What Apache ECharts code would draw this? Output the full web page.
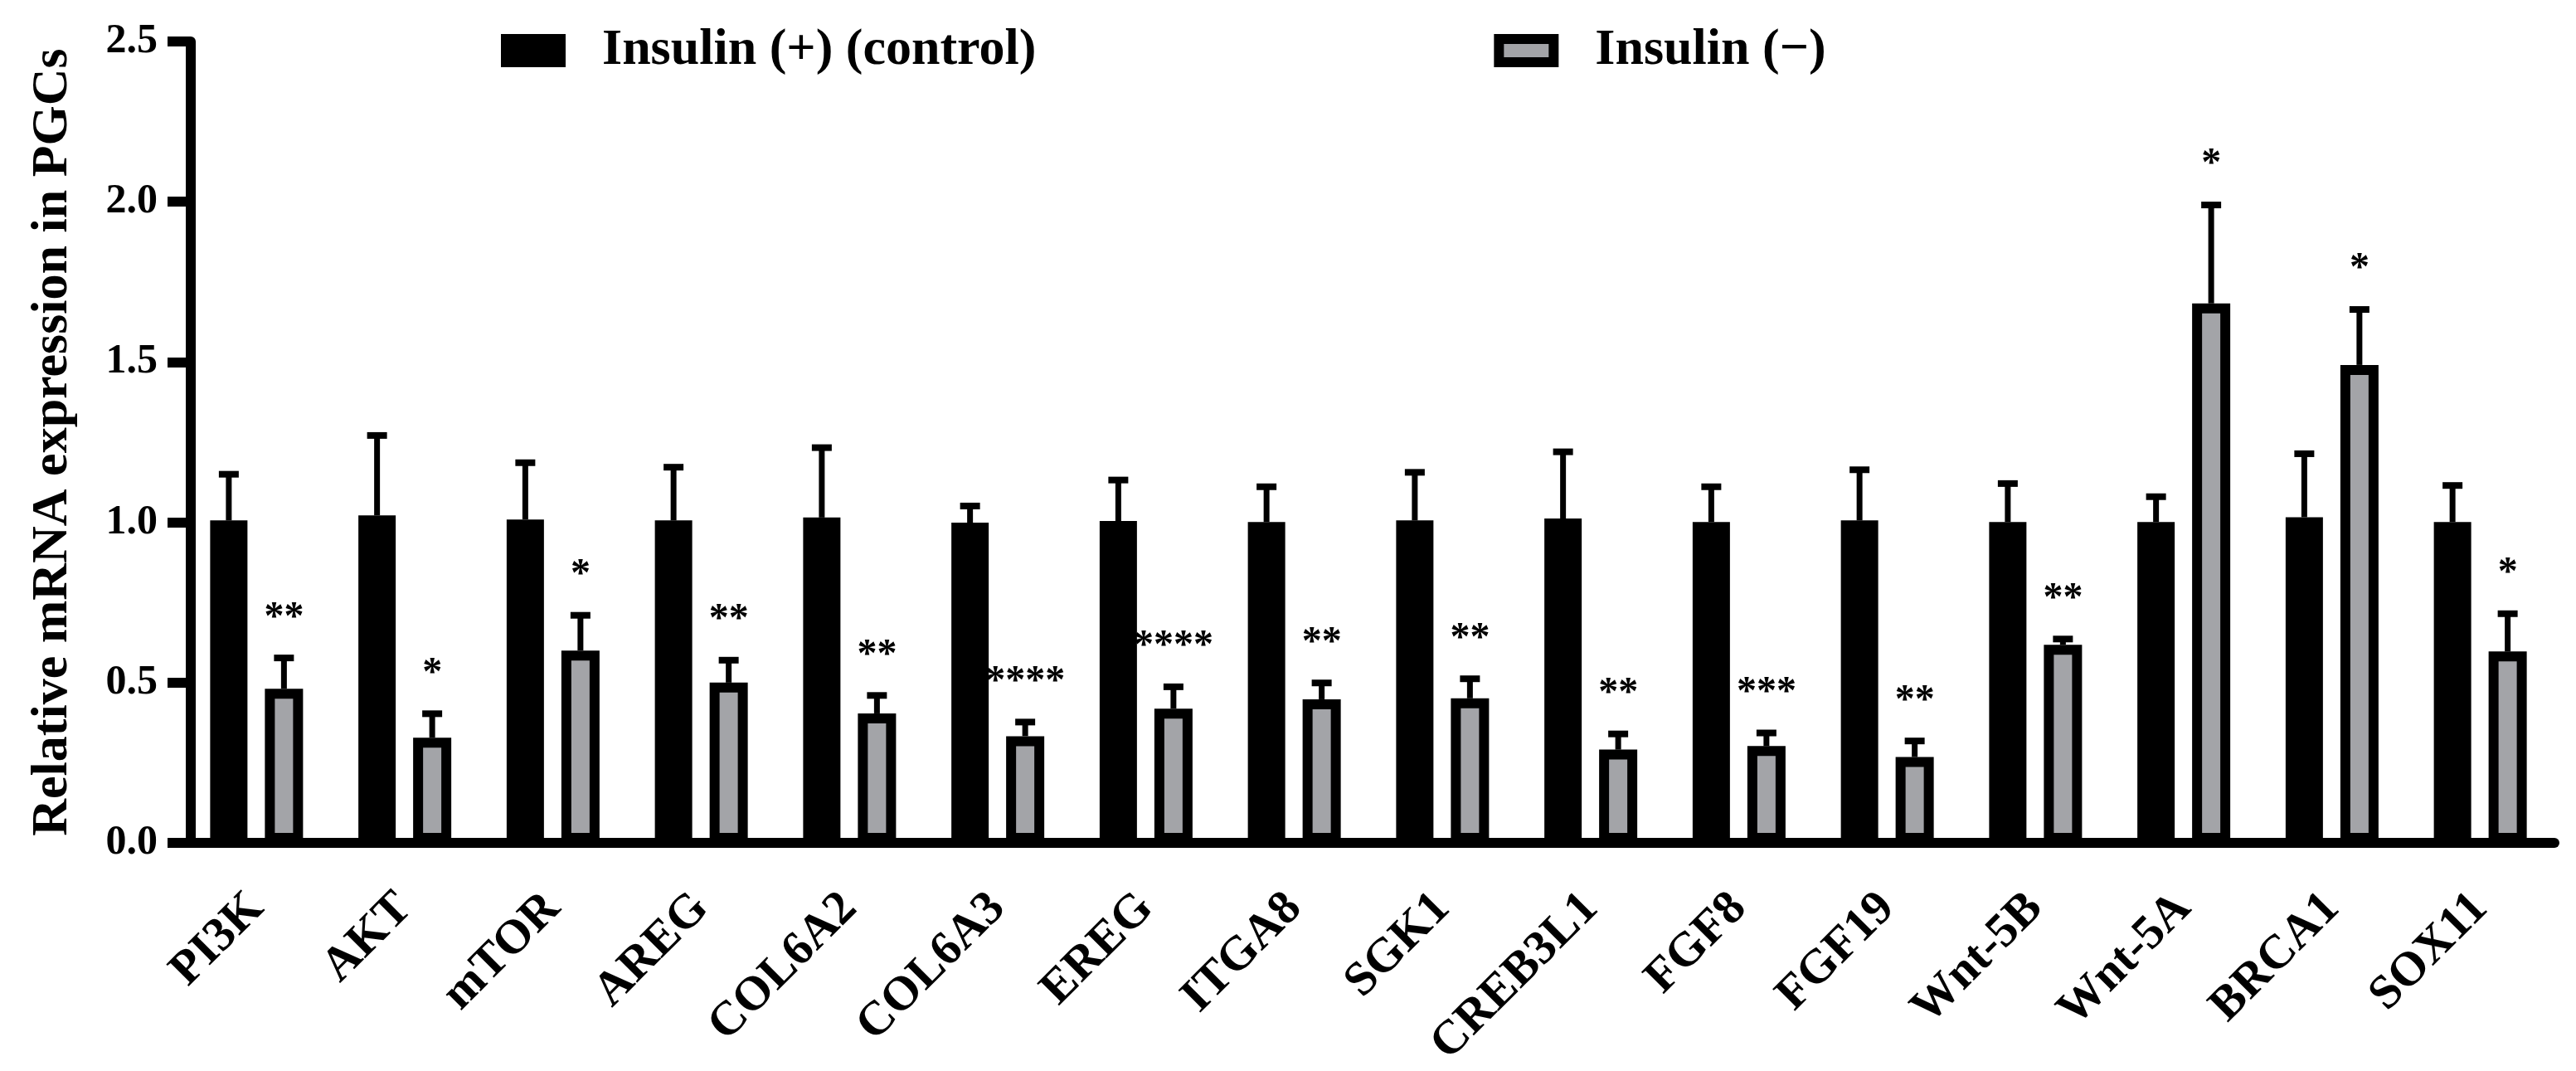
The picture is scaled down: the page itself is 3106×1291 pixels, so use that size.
<!DOCTYPE html>
<html><head><meta charset="utf-8">
<script src="https://cdn.jsdelivr.net/npm/echarts@6/dist/echarts.min.js"></script>
<style>html,body{margin:0;padding:0;background:#fff}#c{width:3106px;height:1291px}</style>
</head><body><div id="c"></div>
<script>
// ---- data ----
const categories = ['PI3K','AKT','mTOR','AREG','COL6A2','COL6A3','EREG','ITGA8','SGK1','CREB3L1','FGF8','FGF19','Wnt-5B','Wnt-5A','BRCA1','SOX11'];
const controlMean = [1.006,1.022,1.009,1.006,1.015,0.999,1.004,1.001,1.006,1.012,1.001,1.006,1.001,1.001,1.016,1.001];
const controlSem  = [0.144,0.249,0.177,0.166,0.218,0.052,0.128,0.110,0.150,0.208,0.110,0.158,0.120,0.079,0.198,0.114];
const minusMean   = [0.481,0.328,0.600,0.500,0.404,0.333,0.419,0.448,0.451,0.291,0.302,0.268,0.618,1.683,1.491,0.597];
const minusSem    = [0.096,0.075,0.110,0.070,0.056,0.044,0.068,0.051,0.061,0.049,0.041,0.050,0.018,0.307,0.173,0.118];
const significance = ['**','*','*','**','**','****','****','**','**','**','***','**','**','*','*','*'];
const seriesNames = ['Insulin (+) (control)', 'Insulin (\u2212)'];
const yAxisTitle = 'Relative mRNA expression in PGCs';

// ---- style ----
const FONT = '"Liberation Serif", "Times New Roman", serif';
const GRAY = '#a3a4a8';
const BW1 = 45, BW2 = 46, GAP = 21 / 45, BORDER = 12;
const totalW = BW1 * (1 + GAP) + BW2; // grouped bar layout width
const off1 = -totalW / 2 + BW1 / 2;
const off2 = -totalW / 2 + BW1 * (1 + GAP) + BW2 / 2;

function errRender(offset, withSig) {
  return function (params, api) {
    const i = api.value(0);
    const base = api.coord([i, api.value(1)]);
    const top = api.coord([i, api.value(2)]);
    const x = base[0] + offset;
    const children = [
      {type: 'line', shape: {x1: x, y1: base[1], x2: x, y2: top[1]}, style: {stroke: '#000', lineWidth: 7}},
      {type: 'line', shape: {x1: x - 12, y1: top[1], x2: x + 12, y2: top[1]}, style: {stroke: '#000', lineWidth: 8}}
    ];
    if (withSig) {
      children.push({type: 'text', x: x, y: top[1] - 48,
        style: {text: significance[params.dataIndex], font: 'bold 48px ' + FONT, fill: '#000', align: 'center', verticalAlign: 'middle'}});
    }
    return {type: 'group', children: children};
  };
}

const chart = echarts.init(document.getElementById('c'));
chart.setOption({
  animation: false,
  backgroundColor: '#fff',
  legend: {
    left: 604, top: 26, padding: 0,
    itemWidth: 66, itemHeight: 28, itemGap: 552,
    textStyle: {fontFamily: FONT, fontWeight: 'bold', fontSize: 62, color: '#000', padding: [0, 0, 0, 45], lineHeight: 70},
    data: [
      {name: seriesNames[0], icon: 'rect', itemStyle: {color: '#000', borderColor: '#000', borderWidth: BORDER}},
      {name: seriesNames[1], icon: 'rect', itemStyle: {color: GRAY, borderColor: '#000', borderWidth: BORDER}}
    ]
  },
  grid: {left: 220, right: 26, top: 50, bottom: 238, containLabel: false},
  xAxis: {
    type: 'category', data: categories, boundaryGap: true,
    axisLine: {lineStyle: {color: '#000', width: 12}},
    axisTick: {alignWithLabel: true, length: 30, lineStyle: {color: '#000', width: 9}},
    axisLabel: {interval: 0, rotate: 45, margin: 70, color: '#000', fontFamily: FONT, fontWeight: 'bold', fontSize: 58},
    splitLine: {show: false}
  },
  yAxis: {
    type: 'value', min: 0, max: 2.5, interval: 0.5, offset: -10,
    name: yAxisTitle, nameLocation: 'middle', nameGap: 135,
    nameTextStyle: {fontFamily: FONT, fontWeight: 'bold', fontSize: 62, color: '#000'},
    axisLine: {show: true, lineStyle: {color: '#000', width: 12}},
    axisTick: {show: true, length: 28, lineStyle: {color: '#000', width: 12}},
    axisLabel: {margin: 40, color: '#000', fontFamily: FONT, fontWeight: 'bold', fontSize: 50,
      formatter: function (v) { return v.toFixed(1); }},
    splitLine: {show: false}
  },
  series: [
    {name: seriesNames[0], type: 'bar', data: controlMean, barWidth: BW1, barGap: (GAP * 100) + '%',
      itemStyle: {color: '#000'}},
    {name: seriesNames[1], type: 'bar', data: minusMean, barWidth: BW2,
      itemStyle: {color: GRAY, borderColor: '#000', borderWidth: BORDER}},
    {type: 'custom', renderItem: errRender(off1, false), z: 3,
      data: controlMean.map(function (m, i) { return [i, m, m + controlSem[i]]; })},
    {type: 'custom', renderItem: errRender(off2, true), z: 3,
      data: minusMean.map(function (m, i) { return [i, m, m + minusSem[i]]; })}
  ]
});
</script></body></html>
